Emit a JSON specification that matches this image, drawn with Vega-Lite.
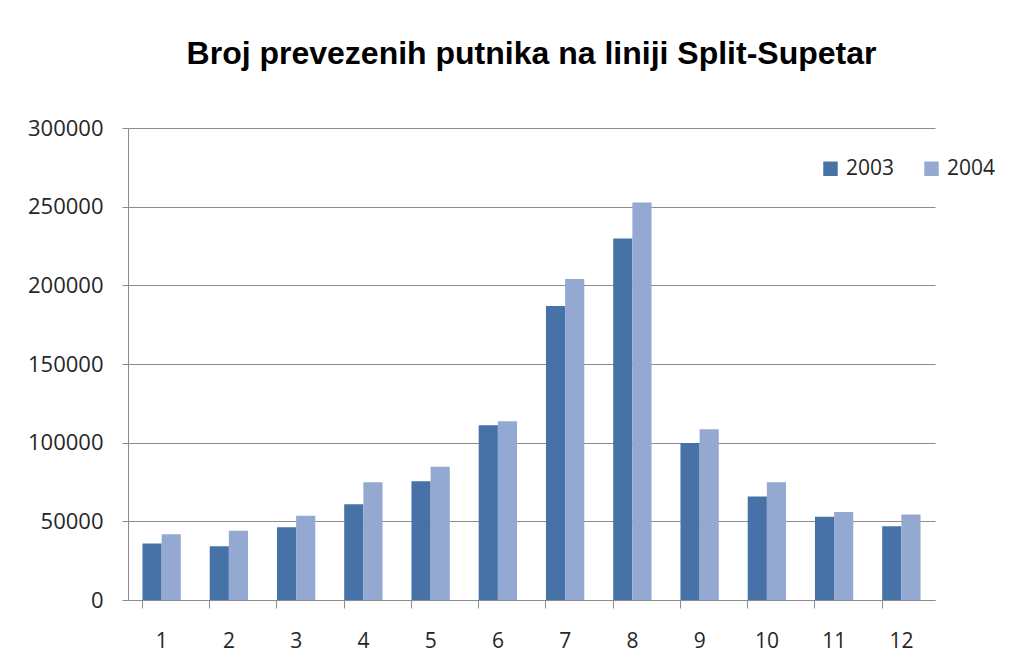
{
  "$schema": "https://vega.github.io/schema/vega-lite/v6.json",
  "width": 807,
  "height": 472,
  "autosize": "none",
  "padding": {"left": 128, "top": 128, "right": 88, "bottom": 68},
  "background": "white",
  "title": {
    "text": "Broj prevezenih putnika na liniji Split-Supetar",
    "font": "Liberation Sans",
    "fontSize": 32,
    "fontWeight": "bold",
    "color": "#000000",
    "anchor": "middle",
    "offset": 46
  },
  "data": {
    "values": [
      {"mjesec": 1, "godina": "2003", "putnika": 35900},
      {"mjesec": 1, "godina": "2004", "putnika": 41800},
      {"mjesec": 2, "godina": "2003", "putnika": 34100},
      {"mjesec": 2, "godina": "2004", "putnika": 44000},
      {"mjesec": 3, "godina": "2003", "putnika": 46200},
      {"mjesec": 3, "godina": "2004", "putnika": 53500},
      {"mjesec": 4, "godina": "2003", "putnika": 60900},
      {"mjesec": 4, "godina": "2004", "putnika": 74900},
      {"mjesec": 5, "godina": "2003", "putnika": 75500},
      {"mjesec": 5, "godina": "2004", "putnika": 84700},
      {"mjesec": 6, "godina": "2003", "putnika": 111000},
      {"mjesec": 6, "godina": "2004", "putnika": 113600},
      {"mjesec": 7, "godina": "2003", "putnika": 186800},
      {"mjesec": 7, "godina": "2004", "putnika": 204000},
      {"mjesec": 8, "godina": "2003", "putnika": 229700},
      {"mjesec": 8, "godina": "2004", "putnika": 252600},
      {"mjesec": 9, "godina": "2003", "putnika": 99800},
      {"mjesec": 9, "godina": "2004", "putnika": 108500},
      {"mjesec": 10, "godina": "2003", "putnika": 65800},
      {"mjesec": 10, "godina": "2004", "putnika": 74900},
      {"mjesec": 11, "godina": "2003", "putnika": 52900},
      {"mjesec": 11, "godina": "2004", "putnika": 56000},
      {"mjesec": 12, "godina": "2003", "putnika": 46900},
      {"mjesec": 12, "godina": "2004", "putnika": 54300}
    ]
  },
  "mark": {"type": "bar"},
  "encoding": {
    "x": {
      "field": "mjesec",
      "type": "ordinal",
      "scale": {"paddingInner": 0.43, "paddingOuter": 0.215},
      "axis": {
        "title": null,
        "labelAngle": 0,
        "bandPosition": 0,
        "labelFont": "Open Sans",
        "labelFontSize": 21,
        "labelColor": "#262626",
        "labelPadding": 22,
        "tickSize": 8,
        "tickColor": "#8c8c8c",
        "domainColor": "#8c8c8c",
        "grid": false
      }
    },
    "xOffset": {"field": "godina", "type": "nominal", "scale": {"paddingInner": 0, "paddingOuter": 0}},
    "y": {
      "field": "putnika",
      "type": "quantitative",
      "scale": {"domain": [0, 300000], "nice": false},
      "axis": {
        "title": null,
        "values": [0, 50000, 100000, 150000, 200000, 250000, 300000],
        "format": "d",
        "labelFont": "Open Sans",
        "labelFontSize": 22,
        "labelColor": "#262626",
        "labelPadding": 19,
        "tickSize": 6,
        "tickColor": "#8c8c8c",
        "domainColor": "#8c8c8c",
        "grid": true,
        "gridColor": "#8c8c8c",
        "gridWidth": 1
      }
    },
    "color": {
      "field": "godina",
      "type": "nominal",
      "scale": {"domain": ["2003", "2004"], "range": ["#4672A8", "#94A9D2"]},
      "legend": {
        "title": null,
        "orient": "none",
        "legendX": 692,
        "legendY": 30,
        "direction": "horizontal",
        "symbolType": "square",
        "symbolSize": 210,
        "symbolStrokeWidth": 0,
        "labelFont": "Open Sans",
        "labelFontSize": 21,
        "labelColor": "#262626",
        "labelOffset": 5,
        "columnPadding": 26
      }
    }
  },
  "config": {"view": {"stroke": null}}
}
